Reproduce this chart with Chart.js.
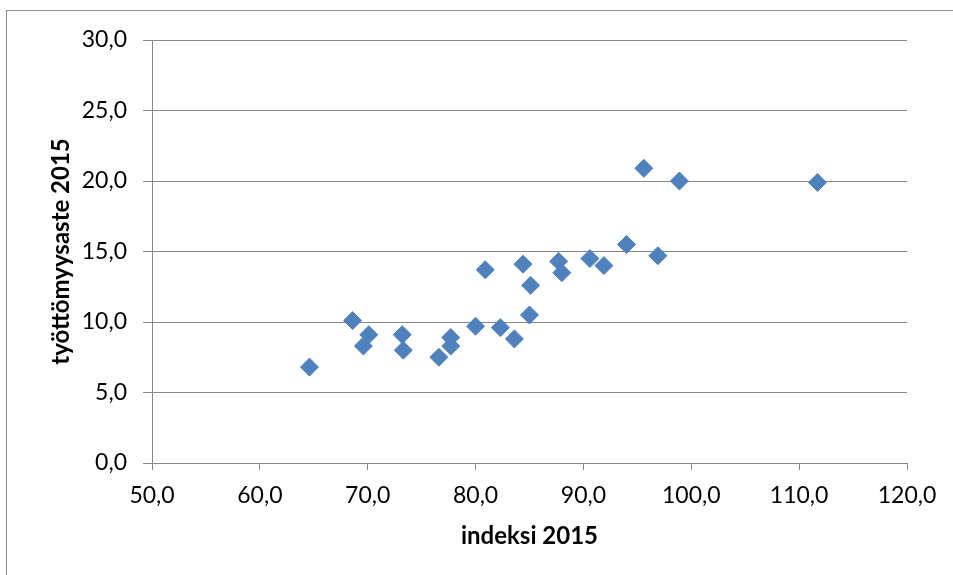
<!DOCTYPE html>
<html>
<head>
<meta charset="utf-8">
<script src="https://cdn.jsdelivr.net/npm/chart.js@4.4.0/dist/chart.umd.min.js"></script>
<style>
    body { margin: 0; background: #fff; overflow: hidden; }
    #wrap { position: relative; width: 953px; height: 575px; }
    #frame { position: absolute; left: 6px; top: 10px; width: 960px; height: 580px;
             border-left: 1px solid #8c8c8c; border-top: 1px solid #8c8c8c; }
    canvas { position: absolute; left: 0; top: 0; }
</style>
</head>
<body>
<div id="wrap">
    <div id="frame"></div>
    <canvas id="scatter-chart" width="953" height="575"></canvas>
</div>
<script>
// indeksi 2015 (x) vs työttömyysaste 2015 (y)
const indeksi = [64.6, 68.6, 69.6, 70.1, 73.2, 73.3, 76.6, 77.7, 77.7, 80.0, 80.9, 82.3, 83.6, 84.4, 85.0, 85.1, 87.7, 88.0, 90.6, 91.9, 94.0, 95.6, 96.9, 98.9, 111.7];
const tyottomyys = [6.8, 10.1, 8.3, 9.1, 9.1, 8.0, 7.5, 8.3, 8.9, 9.7, 13.7, 9.6, 8.8, 14.1, 10.5, 12.6, 14.3, 13.5, 14.5, 14.0, 15.5, 20.9, 14.7, 20.0, 19.9];
const xTitle = 'indeksi 2015';
const yTitle = 'työttömyysaste 2015';

const points = indeksi.map((x, i) => ({ x: x, y: tyottomyys[i] }));
const gridGray = '#878787';
const fmt = v => Number(v).toFixed(1).replace('.', ',');

const ctx = document.getElementById('scatter-chart');

new Chart(ctx, {
    type: 'scatter',
    data: {
        datasets: [{
            data: points,
            pointStyle: 'rectRot',
            pointRadius: 9,
            borderWidth: 1,
            backgroundColor: '#4F81BD',
            borderColor: '#4F81BD'
        }]
    },
    options: {
        responsive: false,
        animation: false,
        devicePixelRatio: 1,
        events: [],
        layout: { padding: { left: 0, right: 46, top: 40, bottom: 0 } },
        plugins: { legend: { display: false }, tooltip: { enabled: false } },
        scales: {
            x: {
                min: 50,
                max: 120,
                afterFit: s => { s.height = 575 - 463; },
                ticks: {
                    stepSize: 10,
                    callback: fmt,
                    color: '#000',
                    padding: 12,
                    maxRotation: 0,
                    font: { family: 'Lato', size: 23 }
                },
                grid: { drawOnChartArea: false, drawTicks: true, tickLength: 7, color: gridGray },
                border: { display: true, color: gridGray, width: 1 },
                title: {
                    display: true,
                    text: xTitle,
                    color: '#000',
                    padding: { top: 0, bottom: 24 },
                    font: { family: 'Lato', size: 24, weight: 'bold' }
                }
            },
            y: {
                min: 0,
                max: 30,
                afterFit: s => { s.width = 152; },
                ticks: {
                    stepSize: 5,
                    callback: fmt,
                    color: '#000',
                    padding: 16,
                    font: { family: 'Lato', size: 23 }
                },
                grid: { drawOnChartArea: true, drawTicks: true, tickLength: 9, color: gridGray },
                border: { display: true, color: gridGray, width: 1 },
                title: {
                    display: true,
                    text: yTitle,
                    color: '#000',
                    padding: { top: 47, bottom: 0 },
                    font: { family: 'Lato', size: 24, weight: 'bold' }
                }
            }
        }
    }
});
</script>
</body>
</html>
